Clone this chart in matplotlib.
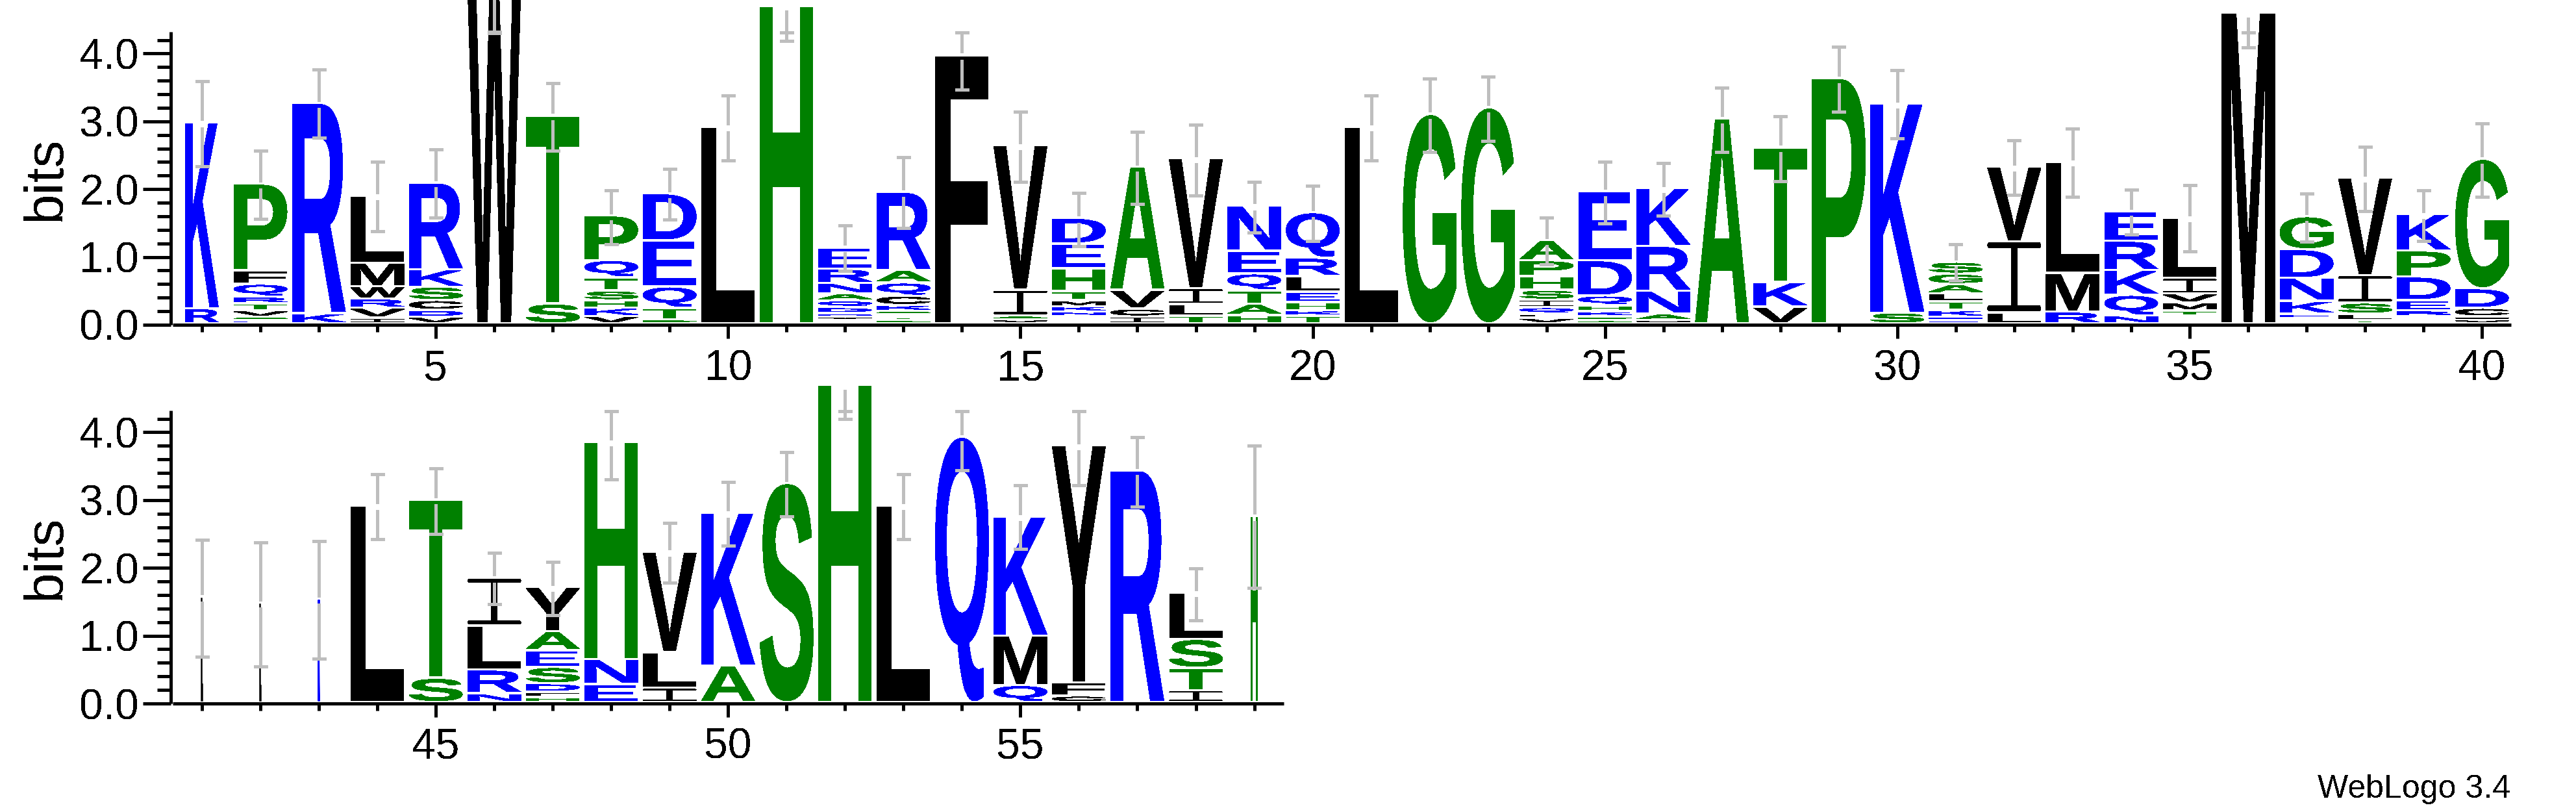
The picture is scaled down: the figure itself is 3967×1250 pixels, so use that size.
import numpy as np
import matplotlib
matplotlib.use("Agg")
import matplotlib.pyplot as plt
from matplotlib.font_manager import FontProperties
from matplotlib.patches import PathPatch
from matplotlib.path import Path
from matplotlib.textpath import TextPath
from matplotlib.transforms import Affine2D, blended_transform_factory
from matplotlib.ticker import FixedLocator, FormatStrFormatter

# ---------- data: stacks are listed bottom to top, one letter per height ----------
row1_start = 1
row1_letters = ["RK", "ESVTRQFP", "KR", "IVRWML", "VDCSKR", "W", "ST", "VKHSTQP", "PTQED", "L",
                "H", " VKDQANRE", "PT SKCQAR", "F", "VAIV", " NKMTHED", "ICVA", "TLIV", "HATQEN", "TKHELRQ",
                "L", "G", "G", "VLQISHPA", "SPKHQDE", "VANRK", "A", "VKT", "P", "SK",
                "EDKTLAGS", "LIV", "RML", "NQKRE", " TMVIL", "M", " EKNDG", "TLSIV", " REDPK", "VICDG"]
row1_heights = [[.224, 2.742], [.051, .048, .093, .105, .099, .189, .201, 1.274], [.153, 3.095],
                [.086, .144, .137, .183, .341, .997], [.096, .105, .144, .198, .256, 1.279], [5.0],
                [.293, 2.775], [.112, .118, .112, .144, .195, .255, .655], [.058, .172, .316, .681, .69], [2.903],
                [4.688], [.053, .052, .048, .087, .099, .108, .15, .208, .32],
                [.048, .051, .037, .052, .084, .137, .195, .182, 1.153], [3.959], [.058, .063, .377, 2.127],
                [.113, .063, .08, .083, .14, .336, .364, .379], [.102, .118, .278, 1.811], [.115, .173, .23, 1.916],
                [.128, .16, .201, .249, .339, .661], [.115, .077, .124, .154, .23, .268, .671],
                [2.903], [3.087], [3.185], [.083, .061, .096, .111, .147, .202, .23, .297],
                [.048, .057, .077, .086, .144, .518, 1.02], [.048, .096, .335, .662, .853], [3.02],
                [.249, .364, 1.987], [3.614], [.161, 3.079],
                [.048, .054, .096, .128, .121, .134, .154, .175], [.163, 1.045, 1.101], [.173, .568, 1.645],
                [.115, .307, .364, .431, .44], [.113, .079, .115, .134, .23, .891], [4.582],
                [.075, .069, .191, .336, .422, .488], [.048, .096, .163, .402, 1.439],
                [.113, .079, .153, .345, .383, .537], [.058, .047, .125, .288, 1.909]]
row1_err_low = [2.335, 1.558, 2.757, 1.382, 1.584, 4.30, 2.57, 1.191, 1.551, 2.419,
                4.186, .792, 1.426, 3.471, 2.111, 1.162, 1.782, 1.906, 1.364, 1.235,
                2.419, 2.548, 2.709, .887, 1.492, 1.609, 2.548, 2.115, 3.141, 2.749,
                .649, 1.913, 1.884, 1.331, 1.081, 4.087, 1.228, 1.675, 1.235, 1.884]
row1_err_high = [3.592, 2.566, 3.765, 2.401, 2.584, 4.32, 3.563, 1.98, 2.298, 3.38,
                 4.311, 1.463, 2.471, 4.311, 3.141, 1.943, 2.848, 2.951, 2.104, 2.049,
                 3.38, 3.629, 3.658, 1.58, 2.405, 2.383, 3.493, 3.072, 4.098, 3.754,
                 1.185, 2.72, 2.892, 1.99, 2.056, 4.311, 1.932, 2.625, 1.983, 2.969]
row1_occupancy = [.617] + [1.0] * 39

row2_start = 41
row2_letters = ["L", "L", "K", "L", "ST", "NRLI", "HFDSEAY", "ENH", "ILV", "AK",
                "S", "H", "L", "Q", "QMK", "CFY", "R", "ITSL", "H"]
row2_heights = [[1.556], [1.468], [1.524], [2.903], [.359, 2.629], [.134, .345, .652, .704],
                [.077, .076, .125, .24, .249, .278, .653], [.268, .365, 3.21], [.211, .527, 1.48], [.537, 2.257],
                [3.23], [4.681], [2.903], [3.915], [.254, .726, 1.758], [.097, .197, 3.492], [3.419],
                [.173, .335, .423, .686], [2.746]]
row2_err_low = [.694, .548, .657, 2.419, 2.496, 1.464, 1.306, 3.302, 1.778, 2.331,
                2.754, 4.194, 2.419, 3.435, 2.282, 3.218, 2.907, 1.23, 1.702]
row2_err_high = [2.411, 2.371, 2.391, 3.379, 3.472, 2.218, 2.085, 4.31, 2.661, 3.266,
                 3.706, 4.306, 3.379, 4.306, 3.218, 4.306, 3.931, 1.996, 3.798]
row2_occupancy = [.025, .025, .025] + [1.0] * 15 + [.125]

green_letters = "AGHPST"
blue_letters = "DEKNQR"
y_label = "bits"
credit = "WebLogo 3.4"
max_bits = 4.32

# ---------- style ----------
DPI = 100
PX = 72 / DPI
W, H = 3967, 1250
GREEN, BLUE, BLACK, GRAY = "#008000", "#0000FF", "#000000", "#BEBEBE"
CELL_W = 82 / 90.03
LETTER_GAP = 0.04
STEM_GAP = 0.05
CAP_HALF = 10.5 / 90.03

plt.rcParams["font.family"] = ["Liberation Sans", "DejaVu Sans"]
plt.rcParams["text.antialiased"] = False
bold = FontProperties(family="Liberation Sans", weight="bold")

# serifed capital I as drawn by the original logo font (unit box)
_sw, _bh, _ch = 0.055, 0.075, 0.018
I_VERTS = [(0.5 + _sw, 1 - _bh), (1 - _ch, 1 - _bh), (1, 1 - _bh * .65), (1, 1 - _bh * .35), (1 - _ch, 1),
           (_ch, 1), (0, 1 - _bh * .35), (0, 1 - _bh * .65), (_ch, 1 - _bh), (0.5 - _sw, 1 - _bh),
           (0.5 - _sw, _bh), (_ch, _bh), (0, _bh * .65), (0, _bh * .35), (_ch, 0),
           (1 - _ch, 0), (1, _bh * .35), (1, _bh * .65), (1 - _ch, _bh), (0.5 + _sw, _bh),
           (0.5 + _sw, 1 - _bh)]

glyphs = {}


def unit_glyph(ch):
    if ch not in glyphs:
        if ch == "I":
            glyphs[ch] = Path(np.array(I_VERTS), closed=True)
        else:
            tp = TextPath((0, 0), ch, size=100, prop=bold)
            bb = tp.get_extents()
            glyphs[ch] = tp.transformed(
                Affine2D().translate(-bb.x0, -bb.y0).scale(1 / bb.width, 1 / bb.height))
    return glyphs[ch]


def colour(ch):
    return GREEN if ch in green_letters else BLUE if ch in blue_letters else BLACK


def draw_row(ax, start, letters, heights, low, high, occ):
    for i, (word, hs) in enumerate(zip(letters, heights)):
        pos = start + i
        width = CELL_W * occ[i]
        y = 0.0
        narrow = occ[i] < 0.1
        for ch, h in zip(word, hs):
            if ch != " ":
                y0 = y + min(LETTER_GAP, h * 0.8)
                tr = (Affine2D().scale(width, y + h - y0).translate(pos - width / 2, y0) + ax.transData)
                c = colour(ch)
                ax.add_patch(PathPatch(unit_glyph(ch), facecolor=c, edgecolor=c if narrow else "none",
                                       linewidth=1.5 * PX if narrow else 0, transform=tr, clip_on=False,
                                       zorder=3, antialiased=narrow))
            y += h
        top = y
        kw = dict(color=GRAY, lw=5 * PX, solid_capstyle="butt", clip_on=False, zorder=4, antialiased=False)
        if high[i] > top + STEM_GAP:
            ax.plot([pos, pos], [top + STEM_GAP, high[i]], **kw)
        if low[i] < top - STEM_GAP:
            ax.plot([pos, pos], [top - STEM_GAP, low[i]], **kw)
        for v in (low[i], high[i]):
            ax.plot([pos - CAP_HALF, pos + CAP_HALF], [v, v], **kw)


fig = plt.figure(figsize=(W / DPI, H / DPI), dpi=DPI, facecolor="white")


def make_axes(base_px, start, n):
    span = n * 90.03
    ax = fig.add_axes([266 / W, (H - base_px) / H, span / W, max_bits * 104.4 / H])
    ax.set_xlim(start - .5, start + n - .5)
    ax.set_ylim(0, max_bits)
    ax.patch.set_visible(False)
    for s in ("top", "right"):
        ax.spines[s].set_visible(False)
    for s in ("left", "bottom"):
        ax.spines[s].set_linewidth(5 * PX)
    ax.spines["left"].set_position(("outward", 3 * PX))
    ax.spines["left"].set_capstyle("butt")
    ax.spines["bottom"].set_capstyle("butt")
    pos = np.arange(start, start + n)
    ax.xaxis.set_major_locator(FixedLocator([p for p in pos if p % 5 == 0]))
    ax.xaxis.set_minor_locator(FixedLocator(list(pos)))
    ax.yaxis.set_major_locator(FixedLocator([0, 1, 2, 3, 4]))
    ax.yaxis.set_minor_locator(FixedLocator(list(np.arange(0, 4.3, .2))))
    ax.yaxis.set_major_formatter(FormatStrFormatter("%.1f"))
    ax.tick_params(axis="x", which="major", length=21 * PX, width=5 * PX, labelsize=66 * PX, pad=16 * PX)
    ax.tick_params(axis="x", which="minor", length=11 * PX, width=5 * PX)
    ax.tick_params(axis="y", which="major", length=43 * PX, width=5 * PX, labelsize=66 * PX, pad=6 * PX)
    ax.tick_params(axis="y", which="minor", length=21 * PX, width=5 * PX)
    tr = blended_transform_factory(fig.transFigure, ax.transAxes)
    ax.text(71 / W, .5, y_label, rotation=90, ha="center", va="center", fontsize=84 * PX, transform=tr)
    return ax


ax1 = make_axes(500, row1_start, len(row1_letters))
draw_row(ax1, row1_start, row1_letters, row1_heights, row1_err_low, row1_err_high, row1_occupancy)
ax2 = make_axes(1083, row2_start, len(row2_letters))
draw_row(ax2, row2_start, row2_letters, row2_heights, row2_err_low, row2_err_high, row2_occupancy)

fig.text(3866 / W, (H - 1215) / H, credit, ha="right", va="center", fontsize=50 * PX)
fig.savefig("out.png", dpi=DPI, facecolor="white")
